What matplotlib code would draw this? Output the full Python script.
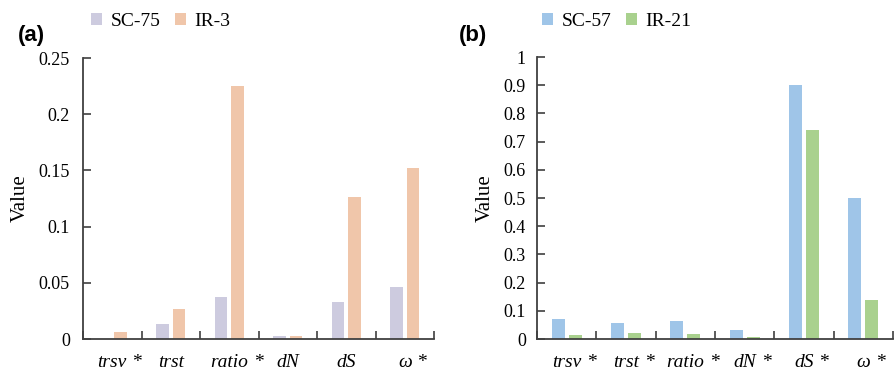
import matplotlib
matplotlib.use("Agg")
import matplotlib.pyplot as plt
import numpy as np

plt.rcParams['font.family'] = 'Liberation Serif'

# panel (a)
labels_a = ['trsv', 'trst', 'ratio', 'dN', 'dS', 'ω']
star_a = [True, False, True, False, False, True]
sc75 = [0.0, 0.0133, 0.0376, 0.003, 0.033, 0.0465]
ir3 = [0.0065, 0.027, 0.225, 0.003, 0.126, 0.152]

# panel (b)
labels_b = ['trsv', 'trst', 'ratio', 'dN', 'dS', 'ω']
star_b = [True, True, True, True, True, True]
sc57 = [0.071, 0.058, 0.064, 0.032, 0.90, 0.50]
ir21 = [0.014, 0.020, 0.017, 0.006, 0.74, 0.14]

W, H = 894, 373
fig = plt.figure(figsize=(W / 100, H / 100), dpi=100)
ax1 = fig.add_axes([83 / W, 34 / H, 351 / W, 281 / H])
ax2 = fig.add_axes([537 / W, 34 / H, 356 / W, 282 / H])


def draw_panel(ax, labels, stars, s1, s2, c1, c2, n1, n2, ymax, yticks, yticklabels, ypad):
    x = np.arange(len(labels))
    bw = 0.22
    ax.bar(x - 0.142, s1, width=bw, color=c1, label=n1)
    ax.bar(x + 0.142, s2, width=bw, color=c2, label=n2)
    ax.set_xlim(-0.5, len(labels) - 0.5)
    ax.set_ylim(0, ymax)
    for s in ['top', 'right']:
        ax.spines[s].set_visible(False)
    for s in ['left', 'bottom']:
        ax.spines[s].set_color('#404040')
        ax.spines[s].set_linewidth(1.3)
    ax.set_yticks(yticks)
    ax.set_yticklabels(yticklabels, fontsize=13)
    ax.tick_params(axis='y', direction='in', length=6, width=1.2, color='#404040', pad=ypad)
    # category boundary ticks on x axis
    ax.set_xticks(np.arange(len(labels) + 1) - 0.5)
    ax.set_xticklabels([])
    ax.tick_params(axis='x', which='major', direction='in', length=6, width=1.2, color='#404040')
    ax.set_xticks(x, minor=True)
    texts = ax.set_xticklabels(labels, minor=True, fontsize=14, style='italic')
    ax.tick_params(axis='x', which='minor', length=0, pad=11)
    for t, st in zip(texts, stars):
        if st:
            ax.annotate('*', xy=(1, 1), xycoords=t, xytext=(4, 0), textcoords='offset points',
                        ha='left', va='top', fontsize=14)
    ax.set_ylabel('Value', fontsize=15, labelpad=6)


draw_panel(ax1, labels_a, star_a, sc75, ir3, '#cdcbdf', '#f0c6aa', 'SC-75', 'IR-3', 0.25,
           [0, 0.05, 0.1, 0.15, 0.2, 0.25], ['0', '0.05', '0.1', '0.15', '0.2', '0.25'], 9.5)
draw_panel(ax2, labels_b, star_b, sc57, ir21, '#9fc5e8', '#a9d18e', 'SC-57', 'IR-21', 1.0,
           np.arange(0, 1.01, 0.1), ['0', '0.1', '0.2', '0.3', '0.4', '0.5', '0.6', '0.7', '0.8', '0.9', '1'], 8)

for ax, lx in [(ax1, 91), (ax2, 542)]:
    ax.legend(loc='lower left', bbox_to_anchor=(lx / W, 1 - 30 / H), bbox_transform=fig.transFigure,
              ncol=2, frameon=False, fontsize=14, handlelength=0.55, handleheight=0.55,
              handletextpad=0.45, columnspacing=0.75, borderaxespad=0, borderpad=0)

fig.text(18 / W, 1 - 36 / H, '(a)', fontsize=16, fontweight='bold', family='Liberation Sans', va='center')
fig.text(459 / W, 1 - 36 / H, '(b)', fontsize=16, fontweight='bold', family='Liberation Sans', va='center')

fig.savefig('out.png', dpi=100)
